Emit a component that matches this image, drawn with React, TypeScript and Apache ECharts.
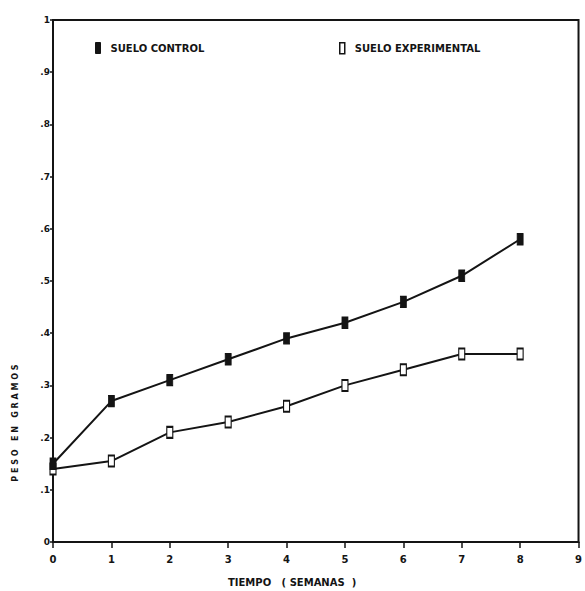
import React, { useEffect, useRef } from "react";
import * as echarts from "echarts";

const weeks = [0, 1, 2, 3, 4, 5, 6, 7, 8];
const sueloControl = [0.15, 0.27, 0.31, 0.35, 0.39, 0.42, 0.46, 0.51, 0.58];
const sueloExperimental = [0.14, 0.155, 0.21, 0.23, 0.26, 0.30, 0.33, 0.36, 0.36];
const legendNames = ["SUELO CONTROL", "SUELO EXPERIMENTAL"];
const xAxisTitle = "TIEMPO   ( SEMANAS  )";
const yAxisTitle = "P E S O   E N   G R A M O S";

const INK = "#141414";
const FONT = "DejaVu Sans";

export default function App() {
  const ref = useRef<HTMLDivElement>(null);
  useEffect(() => {
    if (!ref.current) return;
    const chart = echarts.init(ref.current, undefined, { renderer: "svg" });
    const toPairs = (vals: number[]) => weeks.map((w, i) => [w, vals[i]]);
    const legendText = {
      fontFamily: FONT,
      fontWeight: "bold",
      fontSize: 10,
      color: INK,
      padding: [0, 0, 0, 5],
    };
    chart.setOption({
      animation: false,
      backgroundColor: "#ffffff",
      grid: {
        left: 53,
        right: 3,
        top: 20,
        bottom: 49,
        show: true,
        borderColor: INK,
        borderWidth: 2,
        containLabel: false,
      },
      legend: [
        {
          data: [
            {
              name: legendNames[0],
              icon: "rect",
              itemStyle: { color: INK, borderColor: INK, borderWidth: 1 },
            },
          ],
          left: 90,
          top: 37,
          itemWidth: 5,
          itemHeight: 11,
          textStyle: legendText,
        },
        {
          data: [
            {
              name: legendNames[1],
              icon: "rect",
              itemStyle: { color: "#ffffff", borderColor: INK, borderWidth: 1.5 },
            },
          ],
          left: 334,
          top: 37,
          itemWidth: 5,
          itemHeight: 11,
          textStyle: legendText,
        },
      ],
      xAxis: {
        type: "value",
        min: 0,
        max: 9,
        interval: 1,
        axisLine: { show: true, lineStyle: { color: INK, width: 2 } },
        axisTick: { show: true, length: 6, lineStyle: { color: INK, width: 1.5 } },
        axisLabel: {
          margin: 12,
          fontFamily: FONT,
          fontWeight: "bold",
          fontSize: 10,
          color: INK,
        },
        splitLine: { show: false },
      },
      yAxis: {
        type: "value",
        min: 0,
        max: 1,
        interval: 0.1,
        axisLine: { show: true, lineStyle: { color: INK, width: 2 } },
        axisTick: { show: true, length: 3, lineStyle: { color: INK, width: 1.5 } },
        axisLabel: {
          margin: 3,
          fontFamily: FONT,
          fontWeight: "bold",
          fontSize: 9,
          color: INK,
          formatter: (v: number) => {
            const r = Math.round(v * 10);
            if (r === 0) return "0";
            if (r === 10) return "1";
            return "." + r;
          },
        },
        splitLine: { show: false },
      },
      series: [
        {
          name: legendNames[0],
          type: "line",
          data: toPairs(sueloControl),
          symbol: "rect",
          symbolSize: [6, 11],
          itemStyle: { color: INK, borderColor: INK, borderWidth: 1 },
          lineStyle: { color: INK, width: 2 },
          z: 3,
        },
        {
          name: legendNames[1],
          type: "line",
          data: toPairs(sueloExperimental),
          symbol: "rect",
          symbolSize: [6, 11],
          itemStyle: { color: "#ffffff", borderColor: INK, borderWidth: 1.5 },
          lineStyle: { color: INK, width: 2 },
          z: 2,
        },
      ],
      graphic: [
        {
          type: "text",
          left: 228,
          top: 577,
          style: {
            text: xAxisTitle,
            fontFamily: FONT,
            fontWeight: "bold",
            fontSize: 10,
            fill: INK,
          },
        },
        {
          type: "text",
          x: 15,
          y: 423,
          rotation: Math.PI / 2,
          style: {
            text: yAxisTitle,
            fontFamily: FONT,
            fontWeight: "bold",
            fontSize: 8,
            fill: INK,
            align: "center",
            verticalAlign: "middle",
          },
        },
      ],
    });
    return () => chart.dispose();
  }, []);
  return (
    <div
      ref={ref}
      style={{ position: "fixed", left: 0, top: 0, width: 585, height: 591 }}
    />
  );
}
